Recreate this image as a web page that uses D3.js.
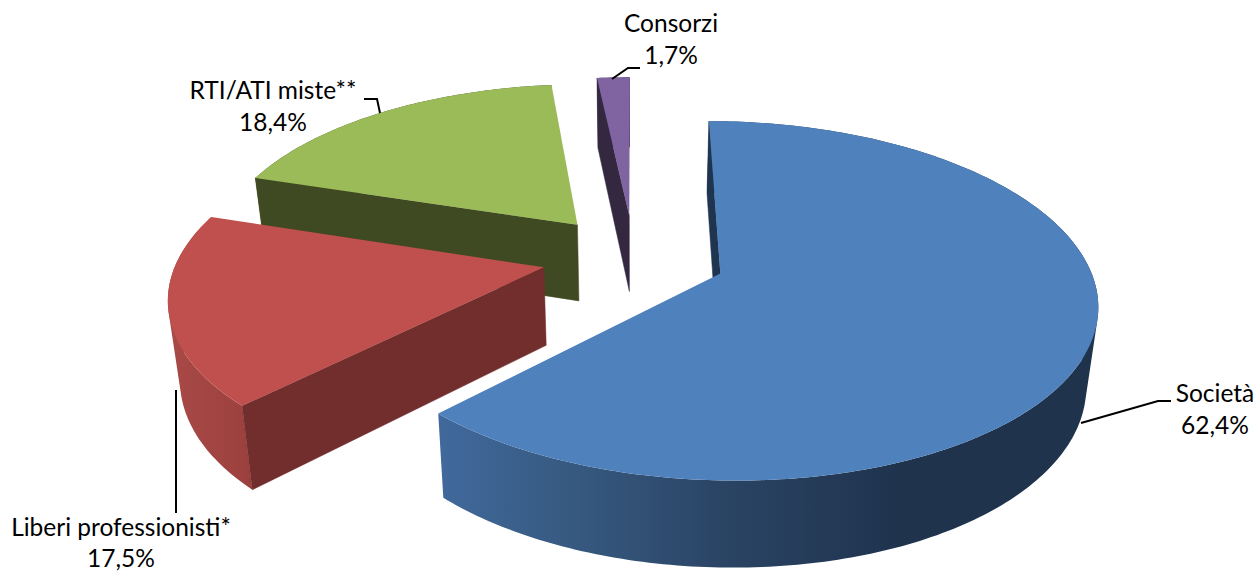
<!DOCTYPE html>
<html lang="it">
<head>
<meta charset="utf-8">
<title>Torta 3D</title>
<style>
    html, body { margin: 0; padding: 0; background: #fff; overflow: hidden; }
    svg { display: block; }
    .label { font-family: Lato, "Open Sans", sans-serif; font-size: 24.5px; fill: #000; text-anchor: middle; }
    .leader { fill: none; stroke: #000; stroke-width: 2; }
</style>
</head>
<body>
<div id="chart"></div>
<script src="https://cdn.jsdelivr.net/npm/d3@7"></script>
<script>
// ============================================================
// DATI
// ============================================================
const categories = ['Società', 'Liberi professionisti*', 'RTI/ATI miste**', 'Consorzi'];
const shares = [62.4, 17.5, 18.4, 1.7];
const shareLabels = ['62,4%', '17,5%', '18,4%', '1,7%'];

const topColors = ['#4f81bd', '#bf504d', '#9bbb59', '#8064a2'];
const wallColors = ['#1f344e', '#722d2d', '#404a22', '#332840'];

// ============================================================
// GEOMETRIA (piano della torta visto in prospettiva)
// ============================================================
const WIDTH = 1258;
const HEIGHT = 572;
const VANISH_X = 634;   // x verso cui convergono le linee in profondita'
const CENTER_Y = 257;
const RADIUS = 366;
const EXPLODE = 92;
const TILT = 0.466;
const PERSP = 0.00041;

// etichette e linee guida, nell'ordine delle categorie
const labelPos = [[1215, 402], [121, 536], [273, 99], [671, 32]];
const lineGap = [32, 31, 32, 32];
const leaders = [
    [[1081, 423], [1158, 401], [1171, 401]],
    [[176, 390], [176, 513]],
    [[380, 113], [377, 99], [364, 99]],
    [[612, 79], [628, 68], [640, 68]]
];

// punto del piano -> punto sulla faccia superiore
function project(x, y) {
    const w = 1 + PERSP * y;
    return [VANISH_X + x / w, CENTER_Y - TILT * y / w];
}

// faccia superiore -> faccia inferiore
function drop(p) {
    return [VANISH_X + (p[0] - VANISH_X) * 0.974, p[1] + 66.6 + 0.0425 * p[1]];
}

const svg = d3.select('#chart').append('svg')
    .attr('width', WIDTH)
    .attr('height', HEIGHT);

const line = d3.line();
const closed = (pts) => line(pts) + 'Z';

// sfumature del fianco esterno
const defs = svg.append('defs');
function sideGradient(id, x1, x2, stops) {
    const g = defs.append('linearGradient')
        .attr('id', id)
        .attr('gradientUnits', 'userSpaceOnUse')
        .attr('x1', x1).attr('x2', x2)
        .attr('y1', 0).attr('y2', 0);
    stops.forEach((s) => g.append('stop').attr('offset', s[0]).attr('stop-color', s[1]));
}
sideGradient('side-0', 437, 900, [[0, '#41699c'], [0.3, '#36597f'], [0.6, '#2b4566'], [1, '#1f334d']]);
sideGradient('side-1', 166, 250, [[0, '#a94a47'], [1, '#9c403e']]);

const sideFill = (i) => (i < 2 ? `url(#side-${i})` : wallColors[i]);

// ============================================================
// FETTE
// ============================================================
const arcs = d3.pie().sort(null).value((d) => d)(shares);

const slices = arcs.map((a, i) => {
    const mid = (a.startAngle + a.endAngle) / 2;
    const ox = EXPLODE * Math.sin(mid);
    const oy = EXPLODE * Math.cos(mid);
    const steps = Math.max(4, Math.ceil((a.endAngle - a.startAngle) * 60));
    const rim = d3.range(steps + 1).map((k) => {
        const t = a.startAngle + (a.endAngle - a.startAngle) * k / steps;
        return project(ox + RADIUS * Math.sin(t), oy + RADIUS * Math.cos(t));
    });
    return { index: i, apex: project(ox, oy), rim };
});

// fianco esterno: tanti quadrilateri nello stesso path, tutti con lo stesso verso
function sidePath(rim, rimLow) {
    return d3.pairs(d3.range(rim.length)).map(([a, b]) => {
        const quad = [rim[a], rim[b], rimLow[b], rimLow[a]];
        if (d3.polygonArea(quad) < 0) quad.reverse();
        return closed(quad);
    }).join('');
}

// prima le fette lontane
const drawOrder = [3, 2, 1, 0];

drawOrder.forEach((i) => {
    const s = slices[i];
    const g = svg.append('g').attr('class', 'slice');
    const rimLow = s.rim.map(drop);

    g.append('path')
        .attr('d', sidePath(s.rim, rimLow))
        .attr('fill', sideFill(i));

    // parete interna visibile (lato iniziale della fetta)
    g.append('path')
        .attr('d', closed([s.apex, s.rim[0], rimLow[0], drop(s.apex)]))
        .attr('fill', wallColors[i])
        .attr('stroke', wallColors[i])
        .attr('stroke-width', 0.5);

    // faccia superiore
    g.append('path')
        .attr('d', closed([s.apex].concat(s.rim)))
        .attr('fill', topColors[i]);
});

// ============================================================
// ETICHETTE
// ============================================================
leaders.forEach((pts) => {
    svg.append('path').attr('class', 'leader').attr('d', line(pts));
});

categories.forEach((name, i) => {
    const [x, y] = labelPos[i];
    svg.append('text').attr('class', 'label').attr('x', x).attr('y', y).text(name);
    svg.append('text').attr('class', 'label').attr('x', x).attr('y', y + lineGap[i]).text(shareLabels[i]);
});
</script>
</body>
</html>
